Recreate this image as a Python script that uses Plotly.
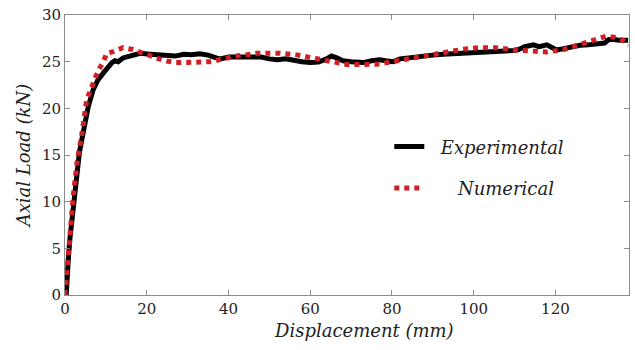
import plotly.graph_objects as go

# Experimental curve
exp_x = [0.3, 0.5, 0.8, 1.2, 1.5, 2.0, 2.5, 3.0, 3.5, 4.1, 4.9, 5.7, 6.9, 8.0, 9.4, 10.5, 11.5, 12.2,
         13.0, 14.2, 16, 18.4, 20.8, 23, 24.9, 27, 29, 31, 33, 35, 37, 38, 40, 42, 44, 46, 48, 50, 52,
         54, 56, 58, 60, 62, 64, 65.2, 66.5, 68, 70, 72, 73, 75, 77, 78.5, 80.3, 82, 85, 88, 90, 92.5,
         95, 98, 101.5, 104, 106, 108, 109.7, 111, 112.5, 114.6, 116, 117.9, 119, 120.3, 122, 124, 126,
         128, 130, 131, 132, 133, 134, 135.5, 136.5, 137.8]
exp_y = [0, 2.5, 3.8, 6, 7.3, 9.8, 11.8, 13.6, 15.2, 16.6, 18.8, 20.2, 22, 23.0, 23.8, 24.4, 24.9, 25.1,
         25.0, 25.4, 25.6, 25.9, 25.8, 25.75, 25.7, 25.6, 25.8, 25.75, 25.85, 25.7, 25.4, 25.3, 25.5, 25.5,
         25.55, 25.5, 25.5, 25.3, 25.2, 25.3, 25.1, 25.0, 24.9, 24.95, 25.3, 25.6, 25.4, 25.1, 25.0, 25.0,
         24.9, 25.1, 25.2, 25.1, 25.0, 25.3, 25.5, 25.6, 25.7, 25.8, 25.85, 25.9, 25.96, 26.0, 26.0, 26.1,
         26.2, 26.3, 26.6, 26.8, 26.6, 26.8, 26.5, 26.25, 26.4, 26.6, 26.75, 26.8, 26.85, 26.86, 27.0,
         27.35, 27.4, 27.3, 27.25, 27.3]

# Numerical curve
num_x = [0, 0.5, 1.0, 1.5, 2.0, 2.5, 3.0, 4.1, 5.3, 6.9, 8.2, 9.4, 10.2, 11.8, 14.2, 16.6, 18.4, 20.8,
         23, 24.9, 27, 29, 33, 36, 38, 42, 47, 52.6, 57, 60.8, 65, 69, 73, 77, 81, 85, 89, 93.4, 97,
         101.5, 105.5, 109.7, 114, 118, 122, 126, 129, 132.6, 134.5, 136.5, 138]
num_y = [0, 3, 6, 8, 10.5, 12.5, 14.4, 17.2, 20.9, 22.7, 24.1, 25.0, 25.9, 26.07, 26.5, 26.3, 26.0, 25.7,
         25.3, 25.07, 24.9, 24.9, 24.9, 25.0, 25.25, 25.6, 25.9, 25.9, 25.7, 25.36, 25.0, 24.7, 24.7,
         24.75, 25.07, 25.4, 25.7, 26.0, 26.3, 26.5, 26.5, 26.25, 26.1, 26.04, 26.3, 26.8, 27.2, 27.75,
         27.6, 27.3, 26.8]

x_ticks = [0, 20, 40, 60, 80, 100, 120]
y_ticks = [0, 5, 10, 15, 20, 25, 30]

FONT = "DejaVu Serif"

fig = go.Figure()
fig.add_trace(go.Scatter(x=exp_x, y=exp_y, mode="lines", name="\u00a0\u00a0<i>Experimental</i>",
                         legendgroup="a", line=dict(color="black", width=5)))
fig.add_trace(go.Scatter(x=num_x, y=num_y, mode="lines", name="\u00a0\u00a0\u00a0\u00a0\u00a0<i>Numerical</i>",
                         legendgroup="b", line=dict(color="#d11f26", width=5, dash="dot")))

axis_common = dict(showline=True, linecolor="#8c8c8c", linewidth=1, mirror="ticks",
                   ticks="inside", ticklen=5, tickcolor="#8c8c8c", showgrid=False, zeroline=False,
                   tickfont=dict(family=FONT, size=15, color="#222"))

fig.update_xaxes(range=[0, 138], tickvals=x_ticks, **axis_common)
fig.update_yaxes(range=[0, 30], tickvals=y_ticks,
                 title=dict(text="<i>Axial Load (kN)</i>", font=dict(family=FONT, size=18, color="#222"),
                            standoff=6),
                 **axis_common)

fig.add_annotation(text="<i>Displacement (mm)</i>", xref="paper", yref="paper",
                   x=0.53, y=-0.125, xanchor="center", yanchor="middle", showarrow=False,
                   font=dict(family=FONT, size=18, color="#222"))

fig.update_layout(
    width=635, height=350,
    margin=dict(l=65, r=6, t=15, b=55),
    paper_bgcolor="white", plot_bgcolor="white",
    legend=dict(x=0.575, y=0.595, xanchor="left", yanchor="top",
                font=dict(family=FONT, size=18, color="#222"),
                bgcolor="rgba(0,0,0,0)", tracegroupgap=15, itemwidth=30),
)

fig.write_html("out.html")
